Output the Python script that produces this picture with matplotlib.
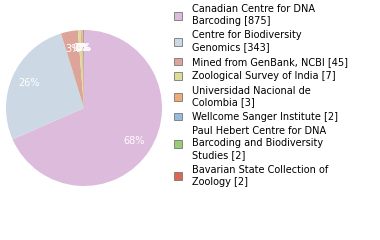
import matplotlib
matplotlib.use('Agg')
import matplotlib.pyplot as plt
from matplotlib.patches import Patch

labels = ['Canadian Centre for DNA\nBarcoding [875]',
          'Centre for Biodiversity\nGenomics [343]',
          'Mined from GenBank, NCBI [45]',
          'Zoological Survey of India [7]',
          'Universidad Nacional de\nColombia [3]',
          'Wellcome Sanger Institute [2]',
          'Paul Hebert Centre for DNA\nBarcoding and Biodiversity\nStudies [2]',
          'Bavarian State Collection of\nZoology [2]']
counts = [875, 343, 45, 7, 3, 2, 2, 2]
colors = ['#ddbbdd', '#ccd9e5', '#dda49a', '#dddd99', '#eeaa77', '#99bbdd', '#99cc77', '#dd6655']

fig = plt.figure(figsize=(3.8, 2.4), dpi=100)
ax = fig.add_axes([6 / 380, 54 / 240, 156 / 380, 156 / 240])
wedges, texts, autotexts = ax.pie(counts, colors=colors, startangle=90, counterclock=False,
                                  autopct=lambda p: '%d%%' % int(p), pctdistance=0.77,
                                  wedgeprops=dict(linewidth=0),
                                  textprops=dict(color='white', fontsize=7))
ax.set_xlim(-1, 1)
ax.set_ylim(-1, 1)
ax.set_aspect('equal')

handles = [Patch(facecolor=c, edgecolor='#777777', linewidth=0.6) for c in colors]
leg = fig.legend(handles, labels, loc='upper left', bbox_to_anchor=(174 / 380, 1 - 4 / 240),
                 frameon=False, fontsize=7, handlelength=0.85, handleheight=0.85,
                 handletextpad=1.05, labelspacing=0.45, borderaxespad=0, borderpad=0)
for t in leg.get_texts():
    t.set_linespacing(1.25)

fig.savefig('out.png', dpi=100)
